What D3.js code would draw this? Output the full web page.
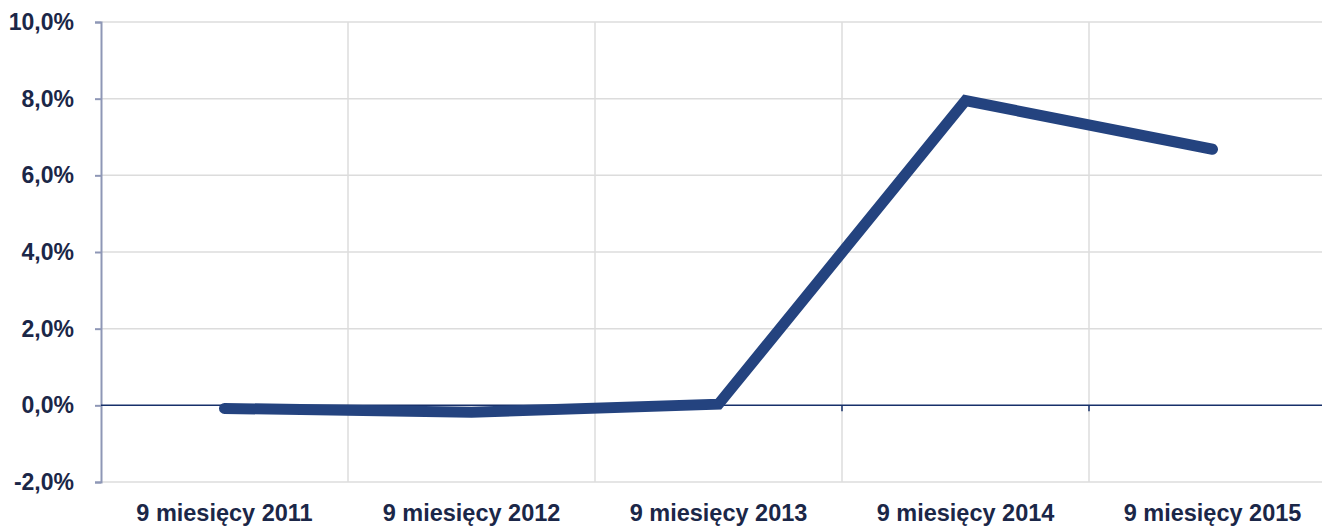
<!DOCTYPE html>
<html><head><meta charset="utf-8">
<script src="https://cdn.jsdelivr.net/npm/d3@7"></script>
<style>
html,body{margin:0;padding:0;background:#fff;overflow:hidden;}
text{font-family:"Liberation Sans",Arial,sans-serif;font-weight:bold;fill:#1b2748;}
</style></head>
<body><svg id="c" width="1322" height="526"></svg>
<script>
const categories = ["9 miesięcy 2011","9 miesięcy 2012","9 miesięcy 2013","9 miesięcy 2014","9 miesięcy 2015"];
const values = [-0.08, -0.18, 0.03, 7.95, 6.68];
const yTicks = [-2, 0, 2, 4, 6, 8, 10];

(function () {
const svg = d3.select("#c");
const mLeft = 101, bandW = 247, mTop = 22, mBottom = 482;
const x = d3.scaleBand().domain(categories).range([mLeft, mLeft + bandW * categories.length]).padding(0);
const y = d3.scaleLinear().domain([-2, 10]).range([mBottom, mTop]);
const fmt = v => v.toFixed(1).replace(".", ",") + "%";

// horizontal gridlines
svg.append("g").selectAll("line").data(yTicks.filter(t => t !== 0)).join("line")
  .attr("x1", mLeft).attr("x2", 1322)
  .attr("y1", d => y(d)).attr("y2", d => y(d))
  .attr("stroke", "#dcdcdc").attr("stroke-width", 1.5);

// vertical gridlines at band boundaries
svg.append("g").selectAll("line").data(categories.slice(1)).join("line")
  .attr("x1", d => x(d)).attr("x2", d => x(d))
  .attr("y1", mTop).attr("y2", mBottom)
  .attr("stroke", "#dcdcdc").attr("stroke-width", 1.5);

// left axis
const yAxis = d3.axisLeft(y).tickValues(yTicks).tickSize(6).tickFormat(fmt).tickPadding(21);
const ga = svg.append("g").attr("transform", `translate(${mLeft},0)`).call(yAxis);
ga.select(".domain").attr("stroke", "#8e97b6").attr("stroke-width", 2);
ga.selectAll(".tick line").attr("stroke", "#8e97b6").attr("stroke-width", 2);
ga.selectAll(".tick text").attr("font-size", 23).attr("fill", "#1b2748")
  .attr("font-family", "Liberation Sans, Arial, sans-serif").attr("font-weight", "bold");

// zero line
svg.append("line").attr("x1", mLeft).attr("x2", 1322).attr("y1", y(0)).attr("y2", y(0))
  .attr("stroke", "#17306a").attr("stroke-width", 1.5);
svg.append("g").selectAll("line").data(categories.slice(1)).join("line")
  .attr("x1", d => x(d)).attr("x2", d => x(d))
  .attr("y1", y(0)).attr("y2", y(0) + 6)
  .attr("stroke", "#17306a").attr("stroke-width", 1.5);

// x labels
svg.append("g").selectAll("text").data(categories).join("text")
  .attr("x", d => x(d) + x.bandwidth() / 2).attr("y", 521)
  .attr("text-anchor", "middle").attr("font-size", 23.5)
  .text(d => d);

// data line
const line = d3.line().x((d, i) => x(categories[i]) + x.bandwidth() / 2).y(d => y(d));
svg.append("path").datum(values).attr("d", line)
  .attr("fill", "none").attr("stroke", "#24437f").attr("stroke-width", 11)
  .attr("stroke-linecap", "round").attr("stroke-linejoin", "miter");
})();
</script></body></html>
